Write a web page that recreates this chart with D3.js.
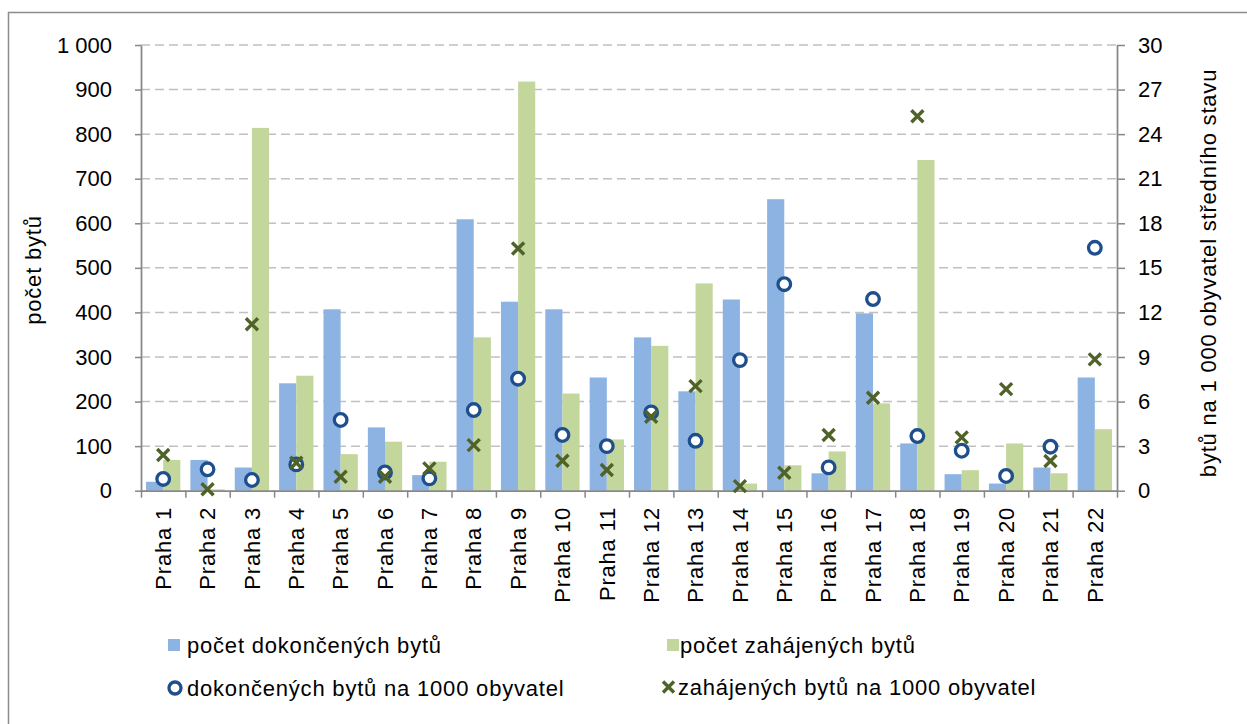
<!DOCTYPE html>
<html>
<head>
<meta charset="utf-8">
<script src="https://cdn.jsdelivr.net/npm/d3@7"></script>
<style>
  body { margin: 0; background: #fff; }
  svg text { font-family: 'Liberation Sans', Arial, sans-serif; fill: #000; }
</style>
</head>
<body>
<svg id="graph" width="1247" height="724"></svg>
<script>
(function() {

// data
const districts = d3.range(1, 23).map(i => `Praha ${i}`);
const completed = [20, 69, 52, 241, 407, 142, 35, 609, 424, 407, 254, 344, 223, 429, 654, 39, 398, 106, 37, 16, 52, 254];
const started = [69, 3, 814, 258, 82, 110, 65, 344, 918, 218, 115, 325, 465, 16, 57, 88, 196, 742, 46, 106, 39, 138];
const completedPer1000 = [0.79, 1.44, 0.72, 1.77, 4.76, 1.23, 0.83, 5.43, 7.54, 3.75, 3.0, 5.27, 3.36, 8.79, 13.9, 1.57, 12.9, 3.68, 2.69, 0.99, 2.96, 16.35];
const startedPer1000 = [2.4, 0.1, 11.2, 1.88, 0.94, 0.94, 1.5, 3.07, 16.3, 2.02, 1.39, 4.98, 7.04, 0.31, 1.21, 3.75, 6.26, 25.2, 3.59, 6.84, 2.0, 8.84];

const leftTicks = d3.range(0, 1001, 100);
const rightTicks = d3.range(0, 31, 3);

const svg = d3.select('#graph');
const left = 141, right = 1117, top = 45, bottom = 490.7;

const blue = '#8DB3E2', green = '#C3D69B';
const circleColor = '#1F4E8C', crossColor = '#4F6228';
const axisColor = '#878787';
const fs = 22;
const spacing = 0.8;

const locale = d3.formatLocale({decimal: ',', thousands: ' ', grouping: [3], currency: ['', '']});
const format = locale.format(',d');

// chart frame (runs off the page at right and bottom)
svg.append('rect')
  .attr('x', 8.5).attr('y', 12.5)
  .attr('width', 1260).attr('height', 740)
  .attr('fill', 'none')
  .attr('stroke', '#8c8c8c')
  .attr('stroke-width', 1.5);

const x = d3.scaleBand()
  .domain(districts)
  .range([left, right])
  .paddingInner(0.227)
  .paddingOuter(0.1135);

const xSub = d3.scaleBand()
  .domain(['completed', 'started'])
  .range([0, x.bandwidth()]);

const yL = d3.scaleLinear().domain([0, 1000]).range([bottom, top]);
const yR = d3.scaleLinear().domain([0, 30]).range([bottom, top]);
const xIdx = d3.scaleLinear().domain([0, districts.length]).range([left, right]);

// gridlines
svg.append('g')
  .selectAll('line')
  .data(leftTicks.filter(d => d > 0))
  .enter().append('line')
    .attr('x1', left).attr('x2', right)
    .attr('y1', d => yL(d)).attr('y2', d => yL(d))
    .attr('stroke', '#c0c0c0')
    .attr('stroke-width', 1.5)
    .attr('stroke-dasharray', '9,5');

// bars
const rows = districts.map((d, i) => ({
  name: d,
  completed: completed[i],
  started: started[i],
  cp: completedPer1000[i],
  sp: startedPer1000[i]
}));

const group = svg.append('g')
  .selectAll('g')
  .data(rows)
  .enter().append('g')
    .attr('transform', d => `translate(${x(d.name)},0)`);

group.append('rect')
  .attr('x', xSub('completed'))
  .attr('width', xSub.bandwidth())
  .attr('y', d => yL(d.completed))
  .attr('height', d => bottom - yL(d.completed))
  .attr('fill', blue);

group.append('rect')
  .attr('x', xSub('started'))
  .attr('width', xSub.bandwidth())
  .attr('y', d => yL(d.started))
  .attr('height', d => bottom - yL(d.started))
  .attr('fill', green);

// axes
const styleAxis = g => {
  g.select('.domain').attr('stroke', axisColor).attr('stroke-width', 1.75);
  g.selectAll('.tick line').attr('stroke', axisColor).attr('stroke-width', 1.5);
  g.selectAll('.tick text')
    .attr('font-size', fs)
    .attr('font-family', null)
    .attr('fill', '#000');
};

svg.append('g')
  .attr('transform', `translate(${left},0)`)
  .call(d3.axisLeft(yL).tickValues(leftTicks).tickSize(6).tickSizeOuter(0).tickPadding(23).tickFormat(format))
  .call(styleAxis);

svg.append('g')
  .attr('transform', `translate(${right},0)`)
  .call(d3.axisRight(yR).tickValues(rightTicks).tickSize(8).tickSizeOuter(0).tickPadding(13))
  .call(styleAxis);

svg.append('g')
  .attr('transform', `translate(0,${bottom})`)
  .call(d3.axisBottom(xIdx).tickValues(d3.range(districts.length + 1)).tickSize(7).tickSizeOuter(0).tickFormat(''))
  .call(styleAxis);

// category labels
svg.append('g')
  .selectAll('text')
  .data(districts)
  .enter().append('text')
    .attr('transform', d => `translate(${x(d) + x.bandwidth() / 2},507) rotate(-90)`)
    .attr('text-anchor', 'end')
    .attr('dy', '0.35em')
    .attr('font-size', fs)
    .attr('letter-spacing', spacing)
    .text(d => d);

// markers
const crossPath = s => `M${-s},${-s}L${s},${s}M${-s},${s}L${s},${-s}`;

svg.append('g')
  .selectAll('circle')
  .data(rows)
  .enter().append('circle')
    .attr('cx', d => x(d.name) + x.bandwidth() / 2)
    .attr('cy', d => yR(d.cp))
    .attr('r', 6.3)
    .attr('fill', '#fff')
    .attr('stroke', circleColor)
    .attr('stroke-width', 3.3);

svg.append('g')
  .selectAll('path')
  .data(rows)
  .enter().append('path')
    .attr('transform', d => `translate(${x(d.name) + x.bandwidth() / 2},${yR(d.sp)})`)
    .attr('d', crossPath(6))
    .attr('stroke', crossColor)
    .attr('stroke-width', 3.4);

// axis titles
svg.append('text')
  .attr('transform', 'translate(33,270) rotate(-90)')
  .attr('text-anchor', 'middle')
  .attr('dy', '0.35em')
  .attr('font-size', fs)
  .attr('letter-spacing', spacing)
  .text('počet bytů');

svg.append('text')
  .attr('transform', 'translate(1208,273) rotate(-90)')
  .attr('text-anchor', 'middle')
  .attr('dy', '0.35em')
  .attr('font-size', fs)
  .attr('letter-spacing', spacing)
  .text('bytů na 1 000 obyvatel středního stavu');

// legend
const legend = [
  {label: 'počet dokončených bytů', type: 'bar', color: blue, x: 168, y: 645, tx: 19},
  {label: 'počet zahájených bytů', type: 'bar', color: green, x: 667, y: 645, tx: 13},
  {label: 'dokončených bytů na 1000 obyvatel', type: 'circle', color: circleColor, x: 168, y: 688, tx: 19},
  {label: 'zahájených bytů na 1000 obyvatel', type: 'cross', color: crossColor, x: 662, y: 687, tx: 16}
];

const item = svg.append('g')
  .selectAll('g')
  .data(legend)
  .enter().append('g')
    .attr('transform', d => `translate(${d.x},${d.y})`);

item.filter(d => d.type === 'bar').append('rect')
  .attr('x', 0).attr('y', -6)
  .attr('width', 12).attr('height', 12)
  .attr('fill', d => d.color);

item.filter(d => d.type === 'circle').append('circle')
  .attr('cx', 7).attr('cy', 0).attr('r', 6)
  .attr('fill', '#fff')
  .attr('stroke', d => d.color)
  .attr('stroke-width', 3.3);

item.filter(d => d.type === 'cross').append('path')
  .attr('transform', 'translate(6.5,0)')
  .attr('d', crossPath(5.5))
  .attr('stroke', d => d.color)
  .attr('stroke-width', 3.4);

item.append('text')
  .attr('x', d => d.tx)
  .attr('dy', '0.35em')
  .attr('font-size', fs)
  .attr('letter-spacing', spacing)
  .text(d => d.label);

})();
</script>
</body>
</html>
